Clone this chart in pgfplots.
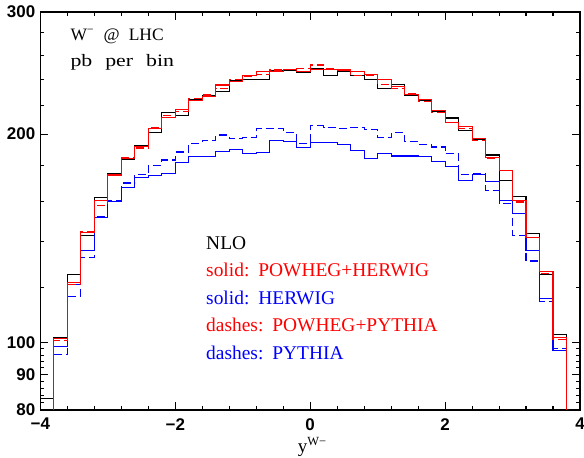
\documentclass[border=0pt]{standalone}
\usepackage{pgfplots}
\pgfplotsset{compat=1.18}
\usepackage{pgfplotstable}
\usepackage{fontspec}
\setmainfont{Liberation Serif}
\newfontfamily\tickfont{Liberation Sans}
\pgfplotstableread{
x    nlo    ph     hw     pp     py
-4.0 83     60     60     60     60
-3.8 101.8  101.3  98.7   100.9  96.3
-3.6 125.3  122.1  121.2  121.5  116.6
-3.4 142.6  144.2  136.0  144.8  132.7
-3.2 162.1  160.2  151.5  157.8  152.0
-3.0 175.2  174.6  160.0  175.0  160.5
-2.8 184.1  184.4  167.3  185.0  170.0
-2.6 192.4  191.8  173.0  191.0  175.0
-2.4 201.2  203.9  174.3  204.4  180.2
-2.2 215.0  211.5  175.5  213.0  183.5
-2.0 213.0  216.7  182.0  215.5  188.5
-1.8 224.5  223.7  185.5  225.0  193.8
-1.6 227.0  226.6  185.5  227.7  196.0
-1.4 230.2  235.4  189.0  233.0  199.4
-1.2 239.0  238.0  190.0  240.0  197.1
-1.0 240.0  243.0  187.3  242.0  197.5
-0.8 239.4  246.0  188.0  244.0  203.5
-0.6 246.6  246.0  195.5  247.4  203.5
-0.4 247.4  248.0  195.0  248.0  201.0
-0.2 245.5  246.0  191.5  249.0  194.0
0.0  248.9  248.0  194.6  251.6  205.8
0.2  242.6  248.0  194.6  249.0  204.7
0.4  246.6  247.4  193.2  247.4  204.0
0.6  243.3  246.0  189.5  243.0  204.7
0.8  239.4  244.0  184.3  243.0  202.8
1.0  232.8  239.4  187.5  236.0  198.0
1.2  235.6  234.0  186.0  233.0  201.0
1.4  227.0  228.0  186.0  229.0  195.0
1.6  223.6  224.0  185.5  223.0  193.2
1.8  215.5  216.0  182.6  215.0  191.6
2.0  211.0  208.0  179.8  207.9  187.4
2.2  202.5  205.0  171.3  203.9  175.0
2.4  196.6  197.0  175.0  196.0  175.2
2.6  186.6  185.0  171.0  184.4  166.0
2.8  171.2  177.0  160.2  177.0  158.7
3.0  162.7  160.2  153.6  159.6  142.6
3.2  143.7  141.8  135.7  142.0  131.2
3.4  125.3  126.7  115.9  126.0  114.6
3.6  102.8  101.8  97.5   101.0  98.0
3.8  60     60     60     60     60
4.0  60     60     60     60     60
}\data
\newcommand{\wsp}{\hspace{9bp}}
\newcommand{\sw}[1]{\scalebox{1.25}[1]{#1}}
\begin{document}
\begin{tikzpicture}
\begin{axis}[name=ax, scale only axis,
  width=539.6bp, height=398bp,
  ymode=log, xmin=-4, xmax=4, ymin=80, ymax=300,
  xtick={-4,-2,0,2,4}, xticklabels={−4,−2,0,2,4},
  minor xtick={-3.6,-3.2,-2.8,-2.4,-1.6,-1.2,-0.8,-0.4,0.4,0.8,1.2,1.6,2.4,2.8,3.2,3.6},
  ytick={80,90,100,200,300}, yticklabels={80,90,100,200,300},
  minor ytick={82,84,86,88,92,94,96,98,120,140,160,180,220,240,260,280},
  major tick length=8bp, minor tick length=4bp,
  tick style={line width=1.1bp, black},
  axis line style={line width=1.6bp},
  ticklabel style={font=\tickfont\bfseries\fontsize{17}{19}\selectfont, inner sep=0pt},
  xticklabel style={yshift=-8bp},
  yticklabel style={xshift=-5bp},
  clip mode=individual,
]
\addplot[const plot mark left, black, line width=1.1bp] table[x=x,y=nlo]{\data};
\addplot[const plot mark left, blue, line width=1.1bp] table[x=x,y=hw]{\data};
\addplot[const plot mark left, blue, line width=1.1bp, dash pattern=on 8bp off 4bp] table[x=x,y=py]{\data};
\addplot[const plot mark left, red, line width=1.1bp] table[x=x,y=ph]{\data};
\addplot[const plot mark left, red, line width=1.1bp, dash pattern=on 8bp off 4bp] table[x=x,y=pp]{\data};
\node[anchor=base west, font=\fontsize{17.5}{20}\selectfont] at (rel axis cs:0.0493,0.9296) {W\raisebox{0.85ex}{\fontsize{12}{12}\selectfont −}\hspace{10bp}@\hspace{9bp}LHC};
\node[anchor=base west, font=\fontsize{17.5}{20}\selectfont] at (rel axis cs:0.0493,0.8626) {\sw{pb}\hspace{13bp}\sw{per}\hspace{13bp}\sw{bin}};
\node[anchor=base west, font=\fontsize{19.5}{20}\selectfont] at (rel axis cs:0.3008,0.4038) {NLO};
\node[anchor=base west, red, font=\fontsize{19.5}{20}\selectfont] at (rel axis cs:0.3008,0.3347) {solid:\wsp POWHEG+HERWIG};
\node[anchor=base west, blue, font=\fontsize{19.5}{20}\selectfont] at (rel axis cs:0.3008,0.2656) {solid:\wsp HERWIG};
\node[anchor=base west, red, font=\fontsize{19.5}{20}\selectfont] at (rel axis cs:0.3008,0.1967) {dashes:\wsp POWHEG+PYTHIA};
\node[anchor=base west, blue, font=\fontsize{19.5}{20}\selectfont] at (rel axis cs:0.3008,0.1256) {dashes:\wsp PYTHIA};
\node[anchor=base, inner sep=0pt, font=\fontsize{19}{20}\selectfont] at (rel axis cs:0.5033,-0.1080) {y\raisebox{0.85ex}{\fontsize{12.5}{13}\selectfont W−}};
\end{axis}
\pgfresetboundingbox
\path (ax.south west) ++(-40.4bp,-48bp) rectangle ++(584bp,458bp);
\end{tikzpicture}
\end{document}
